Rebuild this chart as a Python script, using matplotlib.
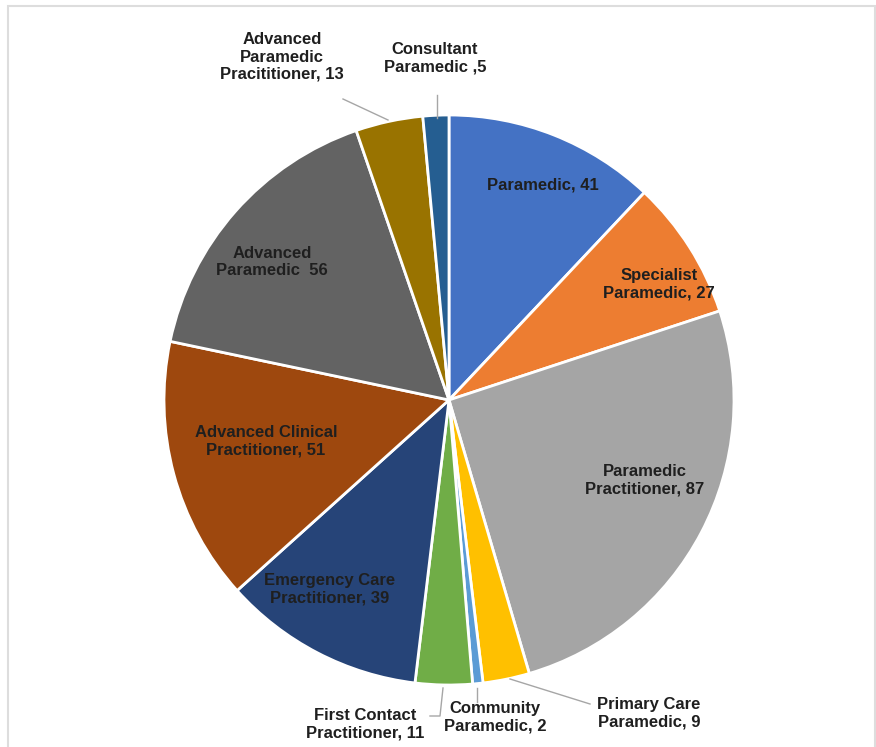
import numpy as np
import matplotlib.pyplot as plt
from matplotlib.patches import Rectangle
from matplotlib import font_manager

# donnees (sens horaire depuis le haut)
labels = ['Paramedic, 41', 'Specialist\nParamedic, 27', 'Paramedic\nPractitioner, 87',
          'Primary Care\nParamedic, 9', 'Community\nParamedic, 2', 'First Contact\nPractitioner, 11',
          'Emergency Care\nPractitioner, 39', 'Advanced Clinical\nPractitioner, 51',
          'Advanced\nParamedic  56', 'Advanced\nParamedic\nPracititioner, 13', 'Consultant\nParamedic ,5']
values = [41, 27, 87, 9, 2, 11, 39, 51, 56, 13, 5]
colors = ['#4472C4', '#ED7D31', '#A5A5A5', '#FFC000', '#5B9BD5', '#70AD47',
          '#264478', '#9E480E', '#636363', '#997300', '#255E91']

# positions des etiquettes en pixels (x, y depuis le haut)
label_px = [(543, 185), (659, 284), (645, 480), (649, 713), (495, 717), (365, 724),
            (330, 589), (266, 441), (272, 262), (282, 57), (435, 58)]
# lignes de rappel (pixels)
leaders = {3: [(510, 679), (590, 704)],
           4: [(477, 688), (477, 702)],
           5: [(443, 688), (440, 716), (430, 716)],
           9: [(388, 120), (343, 99)],
           10: [(437, 118), (437, 95)]}

W, H = 876, 747
names = {f.name for f in font_manager.fontManager.ttflist}
fam = 'Liberation Sans Narrow' if 'Liberation Sans Narrow' in names else 'Liberation Sans'

fig = plt.figure(figsize=(W / 100, H / 100), dpi=100)
ax = fig.add_axes([0, 0, 1, 1])
cx, cy, r = 449, 400, 285
ax.pie(values, colors=colors, startangle=90, counterclock=False,
       center=(cx, H - cy), radius=r,
       wedgeprops=dict(edgecolor='white', linewidth=2))
ax.set_xlim(0, W)
ax.set_ylim(0, H)
ax.set_aspect('equal')
ax.axis('off')

for i, lab in enumerate(labels):
    x, y = label_px[i]
    ax.text(x, H - y, lab, ha='center', va='center', fontsize=12, fontweight='bold',
            family=fam, color='#1f1f1f', linespacing=1.2)

for i, pts in leaders.items():
    xs = [p[0] for p in pts]
    ys = [H - p[1] for p in pts]
    ax.plot(xs, ys, color='#A6A6A6', lw=1)

fig.patches.append(Rectangle((8 / W, -0.01), 1 - 9 / W, 1.01 - 6 / H, transform=fig.transFigure,
                             fill=False, edgecolor='#DDDDDD', lw=1.5))

plt.savefig('out.png', dpi=100)
